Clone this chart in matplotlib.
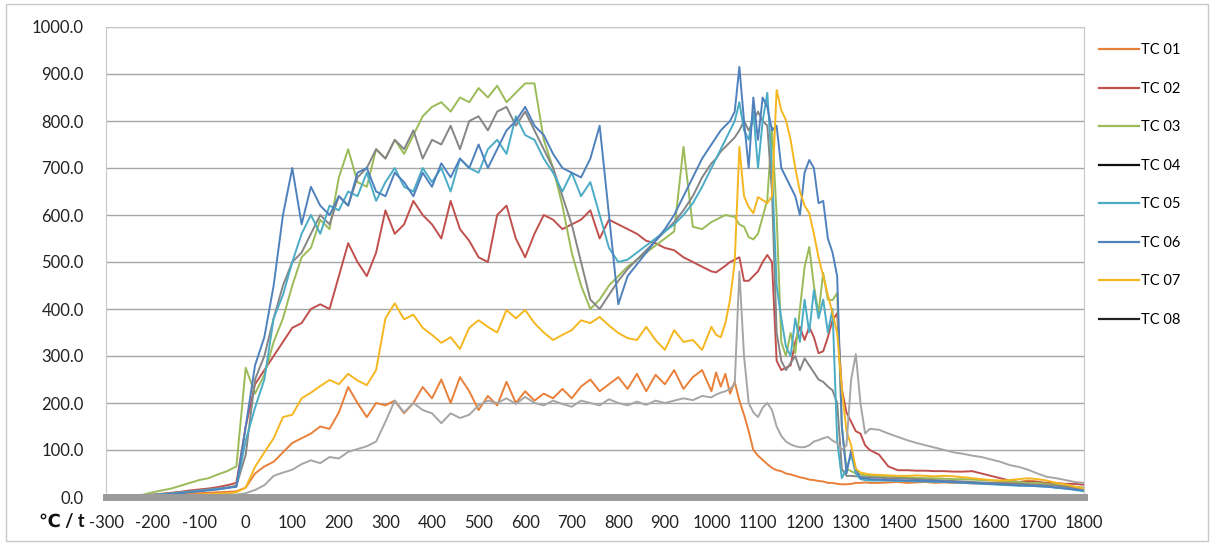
import matplotlib.pyplot as plt
from matplotlib.lines import Line2D
from matplotlib.patches import Rectangle

plt.rcParams["font.family"] = ["Lato", "DejaVu Sans"]
plt.rcParams["axes.unicode_minus"] = False

# time axis: 20 s steps, finer (10 s) around the fire peak
x_pts = list(range(-300, 1001, 20)) + list(range(1010, 1341, 10)) + list(range(1360, 1801, 20))

tc01 = [1, 1, 2, 2, 3, 3, 4, 5, 6, 7, 8, 9, 10, 11, 12,
        20, 50, 65, 75, 95, 115, 125, 135, 150, 145,
        180, 234, 200, 170, 200, 195, 205, 178, 200, 234,
        210, 250, 200, 255, 225, 185, 215, 195, 245, 200,
        225, 205, 220, 210, 230, 210, 235, 250, 225, 240,
        255, 230, 262, 225, 260, 240, 270, 230, 255, 270,
        225,
        265, 235, 262, 220, 245, 205, 175, 140, 100, 88,
        79, 70, 62, 57, 55, 50, 48, 45, 42, 40,
        37, 36, 34, 33, 30, 30, 28, 27, 27, 28,
        30, 30, 31, 30,
        30, 31, 32, 30, 31, 32, 30, 31, 30, 30,
        29, 29, 28, 28, 30, 32, 35, 33, 28, 25,
        22, 18, 15]

tc02 = [0, 0, 1, 2, 3, 5, 7, 9, 11, 14, 16, 18, 21, 25, 30,
        150, 240, 270, 300, 330, 360, 370, 400, 410, 400,
        470, 540, 500, 470, 520, 610, 560, 580, 630, 600,
        580, 550, 630, 570, 545, 510, 500, 600, 620, 550,
        510, 560, 600, 590, 570, 580, 590, 610, 550, 590,
        580, 570, 560, 545, 540, 530, 525, 510, 500, 490,
        480,
        478, 485, 492, 500, 505, 510, 460, 460, 470, 480,
        500, 515, 500, 290, 270, 275, 280, 330, 362, 334,
        362, 340, 306, 310, 340, 376, 391, 230, 180, 160,
        140, 135, 110, 100,
        90, 65, 57, 57, 56, 56, 55, 55, 54, 54,
        55, 50, 45, 40, 35, 32, 32, 32, 30, 30,
        28, 28, 26]

tc03 = [0, 1, 1, 3, 5, 10, 14, 18, 24, 30, 36, 40, 48, 55, 65,
        275, 220, 260, 330, 380, 450, 510, 530, 590, 570,
        680, 740, 670, 660, 740, 720, 760, 730, 770, 810,
        830, 840, 820, 850, 840, 870, 850, 875, 840, 860,
        880, 880, 760, 700, 620, 520, 450, 400, 420, 450,
        470, 490, 505, 520, 535, 550, 565, 745, 575, 570,
        585,
        590, 595, 600, 598, 596, 580, 575, 553, 548, 560,
        596, 632, 787, 600, 330, 300, 349, 306, 400, 489,
        532, 450, 391, 477, 420, 419, 434, 150, 60, 55,
        50, 48, 46, 45,
        45, 44, 42, 42, 41, 40, 40, 39, 38, 38,
        37, 36, 35, 34, 33, 32, 30, 30, 28, 26,
        24, 22, 20]

tc04 = [0, 0, 1, 2, 3, 5, 6, 8, 10, 12, 14, 16, 18, 20, 24,
        90, 250, 300, 380, 450, 500, 520, 560, 600, 580,
        640, 620, 680, 700, 740, 720, 760, 740, 780, 720,
        760, 750, 790, 740, 800, 810, 780, 820, 830, 790,
        820, 780, 740, 700, 640, 580, 500, 420, 400, 430,
        460, 485, 505, 525, 545, 565, 585, 610, 640, 680,
        710,
        720, 735, 745, 755, 765, 780, 800, 780, 800, 820,
        800, 790, 650, 350, 290, 270, 285, 300, 270, 295,
        280, 265, 250, 245, 235, 227, 200, 60, 45, 45,
        44, 43, 42, 42,
        41, 40, 40, 39, 38, 37, 36, 35, 34, 33,
        32, 31, 30, 30, 29, 28, 27, 26, 25, 24,
        22, 20, 18]

tc05 = [0, 0, 1, 2, 3, 4, 6, 7, 9, 11, 13, 15, 17, 20, 22,
        120, 190, 250, 380, 430, 500, 560, 600, 560, 620,
        610, 650, 640, 690, 630, 670, 700, 660, 650, 700,
        670, 700, 650, 720, 700, 690, 740, 760, 730, 810,
        770, 760, 720, 690, 650, 690, 640, 670, 600, 530,
        500, 505, 520, 535, 550, 565, 580, 600, 625, 660,
        700,
        720, 740, 760, 780, 800, 840, 780, 760, 820, 700,
        800, 860, 700, 450, 380, 320, 300, 380, 330, 420,
        350, 440, 380, 420, 350, 400, 120, 40, 60, 90,
        50, 38, 36, 35,
        35, 35, 34, 34, 33, 33, 32, 32, 31, 30,
        29, 28, 27, 26, 25, 24, 24, 23, 22, 20,
        18, 15, 12]

tc06 = [0, 0, 1, 1, 2, 3, 5, 6, 8, 10, 12, 14, 16, 19, 22,
        150, 280, 340, 450, 600, 700, 580, 660, 620, 600,
        640, 620, 690, 700, 650, 640, 690, 670, 640, 690,
        660, 710, 680, 720, 700, 750, 700, 740, 780, 800,
        830, 790, 770, 730, 700, 690, 680, 720, 790, 600,
        410, 470, 495, 520, 545, 570, 600, 640, 680, 720,
        750,
        765, 780, 790, 800, 820, 915, 800, 700, 850, 760,
        850, 830, 780, 790, 700, 680, 660, 640, 600, 690,
        717, 700, 625, 630, 550, 520, 470, 150, 50, 100,
        60, 40, 40, 38,
        37, 36, 36, 35, 35, 34, 34, 33, 32, 31,
        30, 29, 28, 27, 26, 25, 24, 23, 22, 20,
        18, 16, 15]

tc07 = [1, 1, 1, 2, 2, 3, 3, 4, 4, 5, 5, 6, 7, 8, 10,
        20, 64, 95, 125, 170, 175, 210, 222, 236, 249,
        240, 262, 248, 238, 270, 380, 412, 378, 388, 360,
        345, 328, 340, 315, 360, 376, 362, 350, 398, 380,
        398, 370, 350, 334, 345, 355, 376, 370, 383, 365,
        349, 338, 334, 362, 334, 313, 355, 330, 334, 313,
        362,
        345, 340, 370, 420, 500, 745, 640, 617, 604, 638,
        632, 625, 640, 866, 823, 802, 760, 700, 650, 620,
        604, 560, 510, 470, 430, 391, 349, 230, 140, 110,
        60, 52, 50, 48,
        47, 46, 45, 45, 46, 45, 44, 45, 44, 42,
        40, 38, 36, 35, 36, 38, 40, 38, 35, 30,
        27, 22, 18]

tc08 = [0, 0, 0, 1, 1, 1, 2, 2, 2, 3, 3, 4, 4, 5, 5,
        8, 15, 25, 45, 52, 58, 70, 78, 72, 85,
        82, 96, 102, 108, 118, 160, 205, 180, 200, 185,
        178, 157, 178, 168, 175, 195, 205, 200, 210, 198,
        213, 200, 195, 205, 198, 192, 205, 200, 195, 208,
        200, 195, 203, 196, 205, 200, 205, 210, 206, 215,
        212,
        218, 222, 225, 230, 240, 480, 300, 200, 180, 170,
        190, 200, 185, 150, 130, 118, 112, 108, 106, 106,
        110, 118, 121, 125, 128, 120, 115, 100, 110, 250,
        304, 200, 135, 145,
        143, 135, 128, 121, 115, 110, 105, 100, 95, 92,
        88, 85, 80, 75, 68, 64, 58, 50, 43, 40,
        36, 32, 30]

names = ["TC 01", "TC 02", "TC 03", "TC 04", "TC 05", "TC 06", "TC 07", "TC 08"]
values = [tc01, tc02, tc03, tc04, tc05, tc06, tc07, tc08]
colors = ["#E8803A", "#C0504D", "#9BBB59", "#858585",
          "#4BACC6", "#4F81BD", "#F5B720", "#A6A6A6"]
legend_colors = ["#E8803A", "#C0504D", "#9BBB59", "#111111",
                 "#4BACC6", "#4F81BD", "#F5B720", "#222222"]

W, H = 1212, 548
fig = plt.figure(figsize=(W / 100, H / 100), dpi=100)
ax = fig.add_axes([106 / W, 1 - 497 / H, (1084 - 106) / W, (497 - 27) / H])

for name, vals, col in zip(names, values, colors):
    ax.plot(x_pts, vals, color=col, lw=1.4, label=name)

ax.set_xlim(-300, 1800)
ax.set_ylim(0, 1000)
ax.set_xticks(range(-300, 1801, 100))
yt = list(range(0, 1001, 100))
ax.set_yticks(yt)
ax.set_yticklabels([f"{v:.1f}" for v in yt])
ax.yaxis.grid(True, color="#a6a6a6", lw=1)
ax.set_axisbelow(True)
ax.tick_params(axis="both", length=0, labelsize=12, colors="#222222")
ax.tick_params(axis="y", pad=16)
ax.tick_params(axis="x", pad=13)
for s in ["top", "left", "right"]:
    ax.spines[s].set_color("#c8c8c8")
    ax.spines[s].set_linewidth(0.8)
ax.spines["bottom"].set_color("#9a9a9a")
ax.spines["bottom"].set_linewidth(5)

fig.text(62 / W, 1 - 521 / H, "℃ / t", ha="center", va="center",
         fontsize=13, fontweight="bold", color="#111111")

handles = [Line2D([0], [0], color=c, lw=1.6) for c in legend_colors]
fig.legend(handles, names, loc="upper left", bbox_to_anchor=(1086 / W, 1 - 30 / H),
           frameon=False, fontsize=10.5, handlelength=2.7, handletextpad=0.2,
           labelspacing=1.68)

fig.add_artist(Rectangle((6 / W, 7 / H), (1208 - 6) / W, (544 - 7) / H,
                         transform=fig.transFigure, fill=False,
                         ec="#c8c8c8", lw=1))

fig.savefig("out.png", dpi=100, facecolor="white")
